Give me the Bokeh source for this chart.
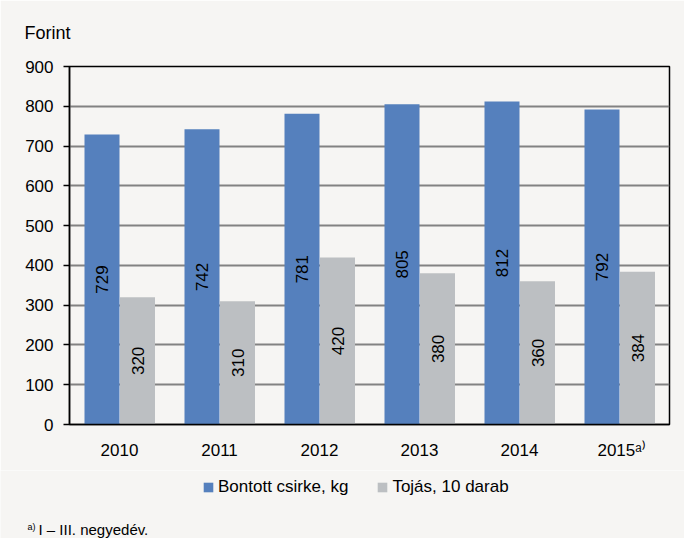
import numpy as np
from bokeh.plotting import figure
from bokeh.layouts import column
from bokeh.models import (ColumnDataSource, Range1d, FixedTicker, Legend, LegendItem, Title, Label)
from bokeh.core.properties import value
from bokeh.embed import file_html
from bokeh.resources import INLINE

years = ["2010", "2011", "2012", "2013", "2014", "2015ᵃ⁾"]
chicken = [729, 742, 781, 805, 812, 792]
eggs = [320, 310, 420, 380, 360, 384]
series_names = ["Bontott csirke, kg", "Tojás, 10 darab"]
y_ticks = [0, 100, 200, 300, 400, 500, 600, 700, 800, 900]
unit_label = "Forint"
footnote_mark = "a)"
footnote_text = "I – III. negyedév."

BLUE = "#5580bd"
GRAY = "#bcbfc2"
BG = "#f6f5f3"
FONT = "Liberation Sans"

idx = np.arange(len(years))
centers = idx + 0.5
bw = 0.35

src_c = ColumnDataSource(dict(x=centers - 0.175, top=chicken, ly=[v / 2 for v in chicken],
                              t=[str(v) for v in chicken]))
src_e = ColumnDataSource(dict(x=centers + 0.18, top=eggs, ly=[v / 2 for v in eggs],
                              t=[str(v) for v in eggs]))

p = figure(width=684, height=470, output_backend="svg", toolbar_location=None,
           x_range=Range1d(0, len(years)), y_range=Range1d(0, 900),
           min_border_left=69, min_border_right=15, min_border_top=66, min_border_bottom=46)
p.frame_align = False
p.background_fill_color = BG
p.border_fill_color = BG
p.outline_line_color = "black"
p.outline_line_width = 1.5

p.vbar(x="x", top="top", width=bw, source=src_c, fill_color=BLUE, line_color=None)
p.vbar(x="x", top="top", width=bw, source=src_e, fill_color=GRAY, line_color=None)

for s in (src_c, src_e):
    p.text(x="x", y="ly", text="t", source=s, angle=np.pi / 2, text_align="center",
           text_baseline="middle", text_font=value(FONT), text_font_size="17px", text_color="black")

# axes
p.xgrid.grid_line_color = None
p.ygrid.grid_line_color = "#828282"
p.ygrid.grid_line_width = 1.8
p.ygrid.ticker = FixedTicker(ticks=y_ticks)

p.yaxis.ticker = FixedTicker(ticks=y_ticks)
p.yaxis.axis_line_color = "black"
p.yaxis.axis_line_width = 1.5
p.yaxis.major_tick_line_color = "black"
p.yaxis.major_tick_line_width = 1.5
p.yaxis.major_tick_out = 6
p.yaxis.major_tick_in = 0
p.yaxis.minor_tick_line_color = None
p.yaxis.major_label_standoff = 10
p.yaxis.major_label_text_font = FONT
p.yaxis.major_label_text_font_size = "17px"
p.yaxis.major_label_text_color = "black"

xt = [float(c) for c in centers]
xt[-1] = xt[-1] + 0.02
p.xaxis.ticker = FixedTicker(ticks=xt)
p.xaxis.major_label_overrides = {t: y for t, y in zip(xt, years)}
p.xaxis.axis_line_color = "black"
p.xaxis.axis_line_width = 1.5
p.xaxis.major_tick_line_color = None
p.xaxis.minor_tick_line_color = None
p.xaxis.major_label_standoff = 10
p.xaxis.major_label_text_font = FONT
p.xaxis.major_label_text_font_size = "17px"
p.xaxis.major_label_text_color = "black"

# unit label
t_unit = Title(text=unit_label, align="left", offset=-45, standoff=43, vertical_align="top",
               text_font=FONT, text_font_size="18px", text_font_style="normal", text_color="black")
p.add_layout(t_unit, "above")

# lower strip: legend + footnote (pixel coordinates, y measured from the strip top)
H2 = 68
p2 = figure(width=684, height=H2, output_backend="svg", toolbar_location=None,
            x_range=Range1d(0, 684), y_range=Range1d(H2, 0),
            min_border_left=0, min_border_right=0, min_border_top=0, min_border_bottom=0)
p2.frame_align = False
p2.axis.visible = False
p2.grid.visible = False
p2.outline_line_color = None
p2.background_fill_color = BG
p2.border_fill_color = BG

# zero-width copies of the bar glyphs, used only for the legend swatches
g1 = p2.vbar(x="x", top="top", width=0, source=src_c, fill_color=BLUE, line_color=None)
g2 = p2.vbar(x="x", top="top", width=0, source=src_e, fill_color=GRAY, line_color=None)

legend = Legend(items=[LegendItem(label=series_names[0], renderers=[g1]),
                       LegendItem(label=series_names[1], renderers=[g2])],
                orientation="horizontal", location=(202, 41))
legend.padding = 0
legend.margin = 0
legend.spacing = 28
legend.glyph_width = 12
legend.glyph_height = 12
legend.label_standoff = 4
legend.label_height = 20
legend.label_text_font = FONT
legend.label_text_font_size = "17px"
legend.label_text_color = "black"
legend.border_line_color = None
legend.background_fill_alpha = 0
p2.add_layout(legend, "center")

p2.add_layout(Label(x=27, y=56, text=footnote_mark, text_font=FONT, text_font_size="9px",
                    text_align="left", text_baseline="alphabetic", text_color="black"))
p2.add_layout(Label(x=38, y=59, text=footnote_text, text_font=FONT, text_font_size="15px",
                    text_align="left", text_baseline="alphabetic", text_color="black"))

layout = column(p, p2, spacing=0)
open("out.html", "w").write(file_html(layout, INLINE))
